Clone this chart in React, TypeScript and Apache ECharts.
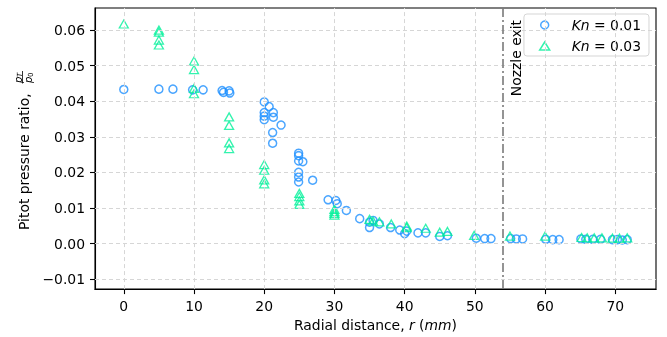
import React, { useEffect, useRef } from "react";
import * as echarts from "echarts";

const seriesNames = ["Kn = 0.01", "Kn = 0.03"];

const kn01R = [
  0, 5, 7, 9.8, 11.3, 14, 14.2, 15, 15.1,
  20, 20.7, 20, 20, 20, 21.3, 21.3, 22.4, 21.2, 21.2,
  24.9, 24.9, 24.9, 25.5, 24.9, 24.9, 24.9, 26.9,
  29.1, 30.2, 30.4, 31.7, 33.6, 35, 35, 35.5, 36.4, 38, 39.3, 40, 40.3, 41.9, 43, 45, 46.1,
  50.2, 51.4, 52.3, 55.1, 55.9, 56.8, 60.1, 61.1, 62,
  65.1, 65.8, 66.8, 67.9, 69.6, 70.3, 71, 71.7,
];
const kn01P = [
  0.0433, 0.0434, 0.0434, 0.0432, 0.0432, 0.043, 0.0425, 0.0429, 0.0423,
  0.0398, 0.0385, 0.0368, 0.0358, 0.0348, 0.0368, 0.0355, 0.0333, 0.0312, 0.0282,
  0.0254, 0.0247, 0.0232, 0.023, 0.02, 0.0187, 0.0173, 0.0178,
  0.0123, 0.0121, 0.0112, 0.0093, 0.007, 0.0045, 0.006, 0.0065, 0.0055, 0.0045, 0.0038, 0.0028, 0.0035, 0.003, 0.003, 0.002, 0.0022,
  0.0015, 0.0014, 0.0014, 0.0014, 0.0013, 0.0013, 0.0012, 0.0011, 0.0011,
  0.0013, 0.0012, 0.0012, 0.0012, 0.0011, 0.0011, 0.001, 0.0011,
];

const kn03R = [
  0, 5, 5, 5, 5, 10, 10, 10, 10, 15, 15, 15, 15, 20, 20, 20, 20, 25, 25, 25, 25, 30, 30, 30, 30,
  35, 35.5, 36.4, 38.1, 40.3, 40.3, 43, 45, 46.1, 49.9, 55, 60,
  65.2, 66, 67, 68.1, 69.6, 70.6, 71.7,
];
const kn03P = [
  0.0617, 0.06, 0.0594, 0.0572, 0.0558, 0.0513, 0.0489, 0.0436, 0.0421,
  0.0356, 0.0332, 0.0283, 0.0267, 0.0222, 0.0206, 0.0179, 0.0168,
  0.0141, 0.0132, 0.012, 0.011, 0.0096, 0.009, 0.0085, 0.008,
  0.0068, 0.0063, 0.0061, 0.0055, 0.0049, 0.0045, 0.0043, 0.0032, 0.0034, 0.0023, 0.0021, 0.0021,
  0.0017, 0.0016, 0.0016, 0.0016, 0.0015, 0.0015, 0.0016,
];

const xTicks = [0, 10, 20, 30, 40, 50, 60, 70];
const yTicks = [-0.01, 0, 0.01, 0.02, 0.03, 0.04, 0.05, 0.06];
const xRange = [-4.1, 75.8];
const yRange = [-0.0128, 0.0662];
const nozzleExit = 54;
const nozzleLabel = "Nozzle exit";
const xName = "Radial distance, {i|r} ({i|mm})";
const yName = "Pitot pressure ratio,";

const FONT = "DejaVu Sans";
const FS = 13.9;
const BLUE = "#1e90ff";
const GREEN = "#00f09a";

export default function App() {
  const ref = useRef<HTMLDivElement>(null);
  useEffect(() => {
    const chart = echarts.init(ref.current!, null, { renderer: "svg" });
    const zip = (a: number[], b: number[]) => a.map((v, i) => [v, b[i]]);
    const fmtY = (v: number) =>
      v < 0 ? "\u2212" + Math.abs(v).toFixed(2) : v.toFixed(2);
    const gridLine = { type: [4, 3], color: "#d6d6d6", width: 1 };
    chart.setOption({
      animation: false,
      grid: {
        left: 95,
        right: 11,
        top: 8,
        bottom: 46,
        show: true,
        borderColor: "#000",
        borderWidth: 1.1,
        backgroundColor: "transparent",
      },
      xAxis: {
        type: "value",
        min: xRange[0],
        max: xRange[1],
        name: xName,
        nameLocation: "middle",
        nameGap: 28,
        nameTextStyle: {
          fontFamily: FONT,
          fontSize: FS,
          color: "#000",
          rich: { i: { fontFamily: FONT, fontSize: FS, fontStyle: "italic", color: "#000" } },
        },
        axisLine: { onZero: false, lineStyle: { color: "#000", width: 1.1 } },
        axisTick: { customValues: xTicks, length: 5, lineStyle: { color: "#000", width: 1.1 } },
        axisLabel: {
          customValues: xTicks,
          margin: 10,
          fontFamily: FONT,
          fontSize: FS,
          color: "#000",
        },
        splitLine: { show: false },
      },
      yAxis: {
        type: "value",
        min: yRange[0],
        max: yRange[1],
        axisLine: { onZero: false, lineStyle: { color: "#000", width: 1.1 } },
        axisTick: { customValues: yTicks, length: 5, lineStyle: { color: "#000", width: 1.1 } },
        axisLabel: {
          customValues: yTicks,
          margin: 10,
          fontFamily: FONT,
          fontSize: FS,
          color: "#000",
          formatter: fmtY,
        },
        splitLine: { show: false },
      },
      legend: {
        orient: "vertical",
        right: 18,
        top: 14,
        data: seriesNames.map((n, i) => ({
          name: n,
          icon: i === 0 ? "circle" : "triangle",
          itemStyle: {
            color: "transparent",
            borderColor: i === 0 ? BLUE : GREEN,
            borderWidth: 1.5,
          },
        })),
        itemWidth: 10,
        itemHeight: 8,
        itemGap: 7,
        padding: [4, 8, 3, 15],
        borderColor: "#d5d5d5",
        borderWidth: 1,
        borderRadius: 3,
        backgroundColor: "rgba(255,255,255,0.8)",
        textStyle: {
          fontFamily: FONT,
          fontSize: FS,
          color: "#000",
          rich: {
            i: { fontFamily: FONT, fontSize: FS, fontStyle: "italic", color: "#000", padding: [0, 0, 0, 17] },
            n: { fontFamily: FONT, fontSize: FS, color: "#000" },
          },
        },
        formatter: (name: string) => {
          const v = name.split("= ")[1];
          return `{i|Kn}{n| = ${v}}`;
        },
      },
      graphic: [
        {
          type: "group",
          x: 24,
          y: 230,
          rotation: Math.PI / 2,
          children: [
            {
              type: "text",
              x: 0,
              y: 0,
              style: {
                text: yName,
                fontFamily: FONT,
                fontSize: FS,
                fill: "#000",
                textAlign: "left",
                textVerticalAlign: "middle",
              },
            },
            { type: "text", x: 147, y: -6, style: { text: "p", fontFamily: FONT, fontSize: 10, fontStyle: "italic", fill: "#000", textAlign: "left", textVerticalAlign: "middle" } },
            { type: "text", x: 153, y: -4, style: { text: "T", fontFamily: FONT, fontSize: 7, fontStyle: "italic", fill: "#000", textAlign: "left", textVerticalAlign: "middle" } },
            { type: "line", shape: { x1: 146.5, y1: -1.5, x2: 159, y2: -1.5 }, style: { stroke: "#000", lineWidth: 0.8 } },
            { type: "text", x: 147, y: 4.5, style: { text: "p", fontFamily: FONT, fontSize: 10, fontStyle: "italic", fill: "#000", textAlign: "left", textVerticalAlign: "middle" } },
            { type: "text", x: 153, y: 6.5, style: { text: "0", fontFamily: FONT, fontSize: 7, fill: "#000", textAlign: "left", textVerticalAlign: "middle" } },
          ],
        },
      ],
      series: [
        {
          type: "line",
          data: [],
          z: 1,
          silent: true,
          markLine: {
            silent: true,
            symbol: "none",
            animation: false,
            label: { show: false },
            lineStyle: gridLine,
            emphasis: { disabled: true },
            data: [
              ...xTicks.map((v) => ({ xAxis: v, lineStyle: gridLine })),
              ...yTicks.map((v) => ({ yAxis: v, lineStyle: gridLine })),
            ],
          },
        },
        {
          name: seriesNames[0],
          type: "scatter",
          symbol: "circle",
          symbolSize: 8,
          z: 3,
          itemStyle: { color: "transparent", borderColor: BLUE, borderWidth: 1.5 },
          data: zip(kn01R, kn01P),
        },
        {
          name: seriesNames[1],
          type: "scatter",
          symbol: "triangle",
          symbolSize: [9, 8],
          z: 4,
          itemStyle: { color: "transparent", borderColor: GREEN, borderWidth: 1.3 },
          data: zip(kn03R, kn03P),
        },
        {
          type: "line",
          data: [],
          z: 2,
          silent: true,
          markLine: {
            silent: true,
            symbol: "none",
            animation: false,
            lineStyle: { color: "#7a7a7a", width: 1.6, type: [9, 3, 2, 3] },
            emphasis: { disabled: true },
            label: {
              show: true,
              formatter: nozzleLabel,
              position: "insideEndBottom",
              distance: [12, 6],
              fontFamily: FONT,
              fontSize: FS,
              color: "#000",
            },
            data: [{ xAxis: nozzleExit }],
          },
        },
      ],
    });
    return () => chart.dispose();
  }, []);
  return (
    <div
      ref={ref}
      style={{ width: 667, height: 337, position: "fixed", left: 0, top: 0 }}
    />
  );
}
